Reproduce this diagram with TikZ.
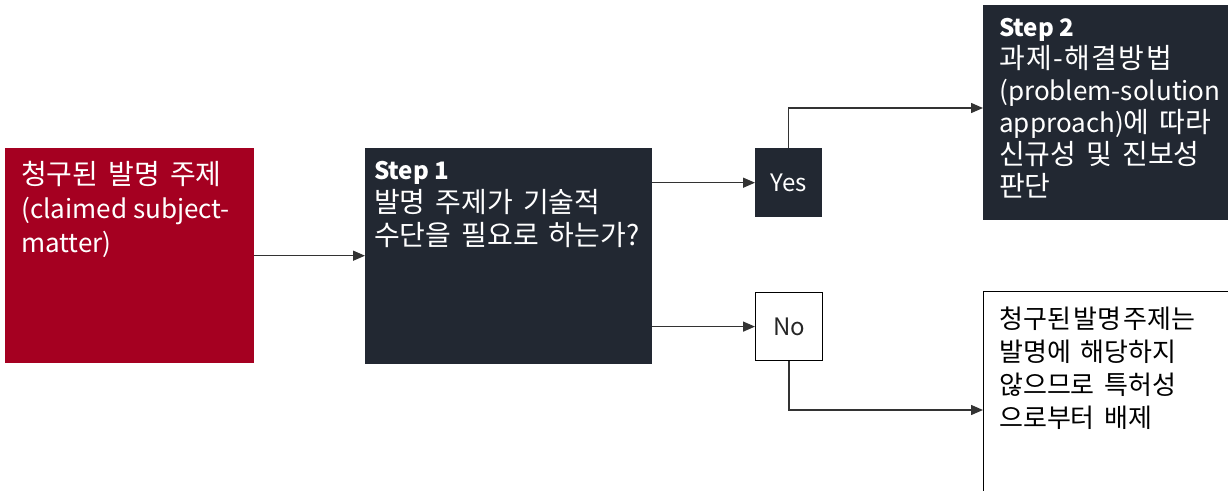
\documentclass[tikz,border=0pt]{standalone}
\usepackage{fontspec}
\setmainfont[WordSpace=1.6]{Noto Sans CJK KR}
\newfontfamily\latf[Scale=0.93]{Noto Sans CJK KR}
\newfontfamily\stepf[Scale=0.86]{Noto Sans CJK KR}
\newfontfamily\tightf[WordSpace=0.4]{Noto Sans CJK KR}
\usetikzlibrary{arrows.meta}
\definecolor{boxred}{HTML}{A50021}
\definecolor{navy}{HTML}{222832}
\definecolor{linegray}{HTML}{333333}
\begin{document}
\begin{tikzpicture}[x=1pt,y=-1pt,
  box/.style={draw=none, inner sep=0pt, anchor=north west},
  txt/.style={inner sep=0pt, anchor=north west, align=left, font=\fontsize{28}{34}\selectfont},
  small/.style={inner sep=0pt, font=\fontsize{24}{28}\selectfont},
  arr/.style={draw=linegray, line width=1.4pt, -{Triangle[length=12pt,width=10pt]}}]
\useasboundingbox (0,0) rectangle (1228,490);
\clip (0,0) rectangle (1228,490);
\fill[white] (0,0) rectangle (1228,490);
% boxes
\node[box, fill=boxred, minimum width=249pt, minimum height=215pt] (claim) at (5,148) {};
\node[box, fill=navy, minimum width=287pt, minimum height=216pt] (step1) at (365,148) {};
\node[box, fill=navy, minimum width=67pt, minimum height=69pt] (yes) at (755,148) {};
\node[box, fill=white, draw=black, line width=1.2pt, minimum width=67pt, minimum height=68pt] (no) at (755,292) {};
\node[box, fill=navy, minimum width=260pt, minimum height=215pt] (step2) at (983,5) {};
\node[box, fill=white, draw=black, line width=1.2pt, minimum width=270pt, minimum height=250pt] (result) at (983,291) {};
% texts
\node[txt, text=white] (claimtxt) at (21,161) {청구된 발명 주제\\{\latf (claimed subject-}\\{\latf matter)}};
\node[txt, text=white, font=\fontsize{28}{33}\selectfont] (step1txt) at (374,161) {{\stepf\bfseries Step 1}\\발명 주제가 기술적\\수단을 필요로 하는가?};
\node[txt, text=white, font=\fontsize{28}{32}\selectfont] (step2txt) at (999,18) {{\stepf\bfseries Step 2}\\{\addfontfeature{LetterSpace=5}과제-해결방법}\\{\latf (problem-solution}\\{\latf approach)}에 따라\\신규성 및 진보성\\판단};
\node[txt, text=black, font=\fontsize{26}{33}\selectfont] (resulttxt) at (999,307) {{\tightf 청구된 발명 주제는}\\발명에 해당하지\\않으므로 특허성\\으로부터 배제};
\node[small, text=white] (yestxt) at (yes.center) {Yes};
\node[small, text=black!85] (notxt) at (no.center) {No};
% connectors
\coordinate (resin) at (983,410);
\coordinate (s2in) at (983,108);
\draw[arr] (claim.east) -- (claim.east -| step1.west);
\draw[arr] (step1.east |- yes.west) -- (yes.west);
\draw[arr] (step1.east |- no.west) -- (no.west);
\draw[arr] (yes.north) |- (s2in);
\draw[arr] (no.south) |- (resin);
\end{tikzpicture}
\end{document}
